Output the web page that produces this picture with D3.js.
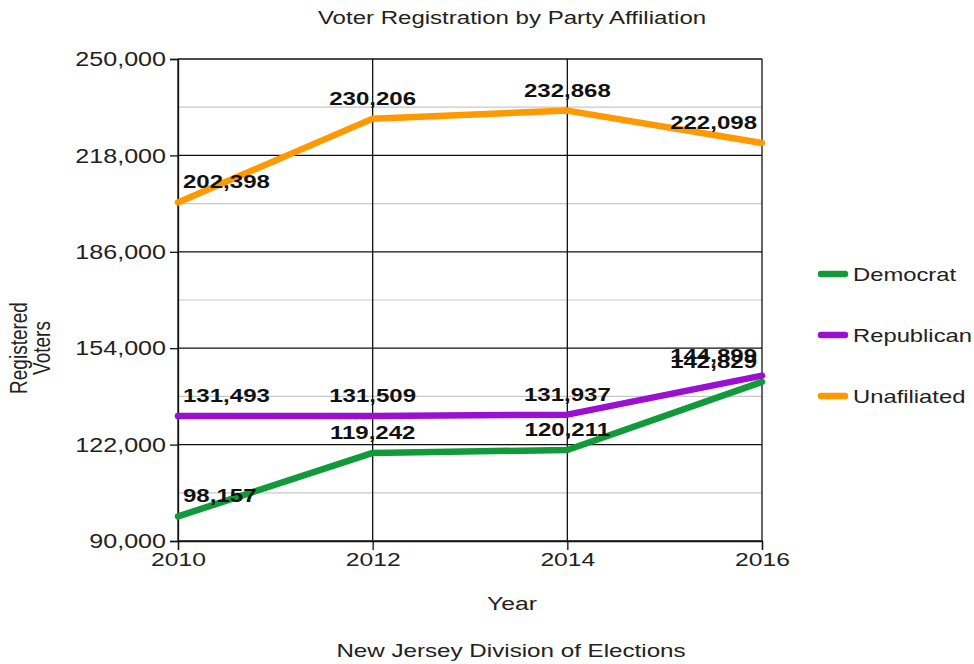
<!DOCTYPE html>
<html>
<head>
<meta charset="utf-8">
<script src="https://cdn.jsdelivr.net/npm/d3@7/dist/d3.min.js"></script>
<style>
  html, body { margin: 0; padding: 0; background: #fff; }
  text { font-family: "Liberation Sans", Arial, sans-serif; fill: #222; }
</style>
</head>
<body>
<svg id="chart" width="974" height="664"></svg>
<script>
// Registered voters by party, New Jersey
const years = [2010, 2012, 2014, 2016];
const democrat = [98157, 119242, 120211, 142829];
const republican = [131493, 131509, 131937, 144899];
const unaffiliated = [202398, 230206, 232868, 222098];
const seriesNames = ["Democrat", "Republican", "Unafiliated"];
const seriesColors = ["#109a3a", "#9a0fd0", "#ff9900"];
const yTicks = [90000, 122000, 154000, 186000, 218000, 250000];
const yMinor = [106000, 138000, 170000, 202000, 234000];

const series = [democrat, republican, unaffiliated].map((vals, i) => ({
  name: seriesNames[i], color: seriesColors[i],
  points: vals.map((v, j) => ({ year: years[j], value: v }))
}));

const SX = 1.3;             // horizontal text stretch
const fmt = d3.format(",");
const svg = d3.select("#chart");
const margin = { left: 178, right: 212, top: 59, bottom: 123 };
const W = 974, H = 664;

const x = d3.scalePoint().domain(years).range([margin.left, W - margin.right]);
const y = d3.scaleLinear().domain([90000, 250000]).range([H - margin.bottom, margin.top]);

function label(parent, px, py, str, opts = {}) {
  const g = parent.append("g")
    .attr("transform", `translate(${px},${py}) scale(${SX},1)`);
  const t = g.append("text")
    .attr("text-anchor", opts.anchor || "middle")
    .attr("font-size", opts.size || 16)
    .attr("font-weight", opts.weight || "normal")
    .text(str);
  if (opts.fill) t.style("fill", opts.fill);
  return t;
}

// Gridlines
const grid = svg.append("g");
grid.selectAll("line.minor").data(yMinor).join("line")
  .attr("x1", margin.left).attr("x2", W - margin.right)
  .attr("y1", d => y(d)).attr("y2", d => y(d))
  .attr("stroke", "#c8c8c8").attr("stroke-width", 1.2);
grid.selectAll("line.major").data(yTicks).join("line")
  .attr("x1", margin.left).attr("x2", W - margin.right)
  .attr("y1", d => y(d)).attr("y2", d => y(d))
  .attr("stroke", "#111").attr("stroke-width", 1.3);
grid.selectAll("line.vert").data(years).join("line")
  .attr("x1", d => x(d)).attr("x2", d => x(d))
  .attr("y1", margin.top).attr("y2", H - margin.bottom)
  .attr("stroke", "#111").attr("stroke-width", 1.3);

// Axes
const yAxis = svg.append("g")
  .attr("transform", `translate(${margin.left},0)`)
  .call(d3.axisLeft(y).tickValues(yTicks).tickFormat(fmt).tickSize(8).tickPadding(0));
yAxis.select(".domain").attr("stroke", "#111").attr("stroke-width", 1.3);
yAxis.selectAll(".tick line").attr("stroke", "#111").attr("stroke-width", 1.3);
yAxis.selectAll(".tick text")
  .attr("x", 0).attr("dy", "0.35em")
  .attr("transform", `translate(-12,0) scale(${SX},1)`)
  .attr("font-size", 19.3).attr("font-family", null).style("fill", "#222");

const xAxis = svg.append("g")
  .attr("transform", `translate(0,${H - margin.bottom})`)
  .call(d3.axisBottom(x).tickSize(9).tickPadding(0));
xAxis.select(".domain").attr("stroke", "#111").attr("stroke-width", 1.3);
xAxis.selectAll(".tick line").attr("stroke", "#111").attr("stroke-width", 1.3);
xAxis.selectAll(".tick text")
  .attr("y", 0).attr("dy", "0.71em")
  .attr("transform", `translate(0,12) scale(${SX},1)`)
  .attr("font-size", 19).attr("font-family", null).style("fill", "#222");

// Lines
const line = d3.line().x(d => x(d.year)).y(d => y(d.value));
svg.append("g").selectAll("path").data(series).join("path")
  .attr("d", d => line(d.points))
  .attr("fill", "none")
  .attr("stroke", d => d.color)
  .attr("stroke-width", 6.5)
  .attr("stroke-linejoin", "round")
  .attr("stroke-linecap", "round");

// Value labels
const labels = svg.append("g");
series.forEach(s => {
  s.points.forEach((p, j) => {
    const anchor = j === 0 ? "start" : (j === years.length - 1 ? "end" : "middle");
    const dx = j === 0 ? 5 : (j === years.length - 1 ? -5 : 0);
    label(labels, x(p.year) + dx, y(p.value) - 14, fmt(p.value),
      { anchor, size: 18.5, weight: "bold", fill: "#111" });
  });
});

// Legend
const legend = svg.append("g");
series.forEach((s, i) => {
  const ly = 274 + i * 61;
  legend.append("line")
    .attr("x1", 821).attr("x2", 845).attr("y1", ly).attr("y2", ly)
    .attr("stroke", s.color).attr("stroke-width", 6.5).attr("stroke-linecap", "round");
  label(legend, 853, ly + 7, s.name, { anchor: "start", size: 18.3 });
});

// Titles
label(svg, 512, 24, "Voter Registration by Party Affiliation", { size: 18.5 });
label(svg, 512, 610, "Year", { size: 19 });
label(svg, 511, 657, "New Jersey Division of Elections", { size: 18.6 });
const yl = svg.append("g").attr("transform", `translate(27,348) scale(${SX},1) rotate(-90)`);
yl.append("text").attr("text-anchor", "middle").attr("font-size", 19).attr("y", 0).text("Registered");
yl.append("text").attr("text-anchor", "middle").attr("font-size", 19).attr("y", 18).text("Voters");
</script>
</body>
</html>
